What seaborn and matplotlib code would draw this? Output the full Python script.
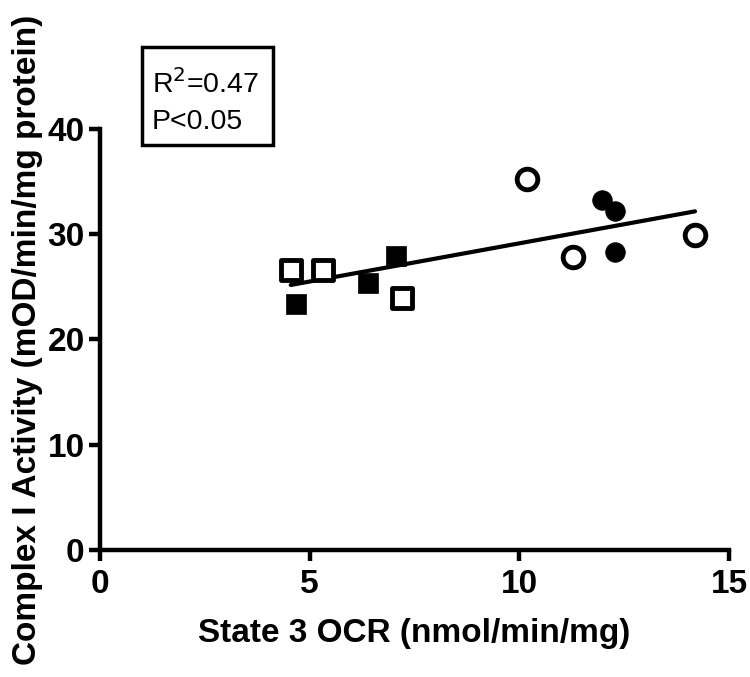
import numpy as np
import pandas as pd
import matplotlib
matplotlib.use('Agg')
import matplotlib.pyplot as plt
import seaborn as sns
from matplotlib.patches import Rectangle

# values
sq_open_x = [4.55, 5.31, 7.21]
sq_open_y = [26.6, 26.6, 23.9]
sq_fill_x = [4.67, 6.40, 7.07]
sq_fill_y = [23.4, 25.4, 27.9]
ci_open_x = [10.19, 11.29, 14.19]
ci_open_y = [35.25, 27.8, 29.9]
ci_fill_x = [11.98, 12.29, 12.29]
ci_fill_y = [33.25, 32.2, 28.3]

x_ticks = [0, 5, 10, 15]
y_ticks = [0, 10, 20, 30, 40]
stats_lines = ["R$^2$=0.47", "P<0.05"]

groups = {
    'sq_open': (sq_open_x, sq_open_y),
    'sq_fill': (sq_fill_x, sq_fill_y),
    'ci_open': (ci_open_x, ci_open_y),
    'ci_fill': (ci_fill_x, ci_fill_y),
}
df = pd.concat([pd.DataFrame({'x': gx, 'y': gy, 'group': g}) for g, (gx, gy) in groups.items()],
               ignore_index=True)

sns.set_style('ticks', {'axes.edgecolor': 'black', 'text.color': 'black',
                        'xtick.color': 'black', 'ytick.color': 'black', 'axes.labelcolor': 'black'})
plt.rcParams['font.family'] = ['Liberation Sans', 'DejaVu Sans']

fig = plt.figure(figsize=(7.5, 6.77), dpi=100)
ax = fig.add_axes([0.1333, 0.1876, 0.8387, 0.6219])

# marker style per group
styles = {
    'sq_open': dict(marker='s', s=190, facecolor='white', edgecolor='black', linewidth=3.5),
    'sq_fill': dict(marker='s', s=200, facecolor='black', edgecolor='black', linewidth=0.5),
    'ci_open': dict(marker='o', s=220, facecolor='white', edgecolor='black', linewidth=3.5),
    'ci_fill': dict(marker='o', s=200, facecolor='black', edgecolor='black', linewidth=0.5),
}
sns.regplot(data=df, x='x', y='y', scatter=False, ci=None, truncate=True,
            color='black', line_kws=dict(linewidth=3), ax=ax)
for g, st in styles.items():
    sns.scatterplot(data=df[df['group'] == g], x='x', y='y', ax=ax, zorder=3, **st)

ax.set_xlim(0, 15)
ax.set_ylim(0, 40)
ax.set_xticks(x_ticks)
ax.set_yticks(y_ticks)
sns.despine(ax=ax)
for sp in ['left', 'bottom']:
    ax.spines[sp].set_linewidth(3.2)
ax.tick_params(axis='both', width=3.2, length=8, labelsize=24, colors='black')
ax.tick_params(axis='x', pad=6)
ax.tick_params(axis='y', pad=3)
for lbl in ax.get_xticklabels() + ax.get_yticklabels():
    lbl.set_fontweight('bold')
ax.set_xlabel('State 3 OCR (nmol/min/mg)', fontsize=24, fontweight='bold', labelpad=13)
ax.set_ylabel('Complex I Activity (mOD/min/mg protein)', fontsize=24, fontweight='bold', labelpad=3)

# stats box above the plot area
fig.add_artist(Rectangle((0.1893, 0.7858), 0.1747, 0.1448, transform=fig.transFigure,
                         facecolor='white', edgecolor='black', linewidth=2.5))
fig.text(0.2027, 0.8626, stats_lines[0], fontsize=20.5, va='baseline', ha='left')
fig.text(0.2027, 0.8095, stats_lines[1], fontsize=20.5, va='baseline', ha='left')

fig.savefig('out.png', dpi=100)
